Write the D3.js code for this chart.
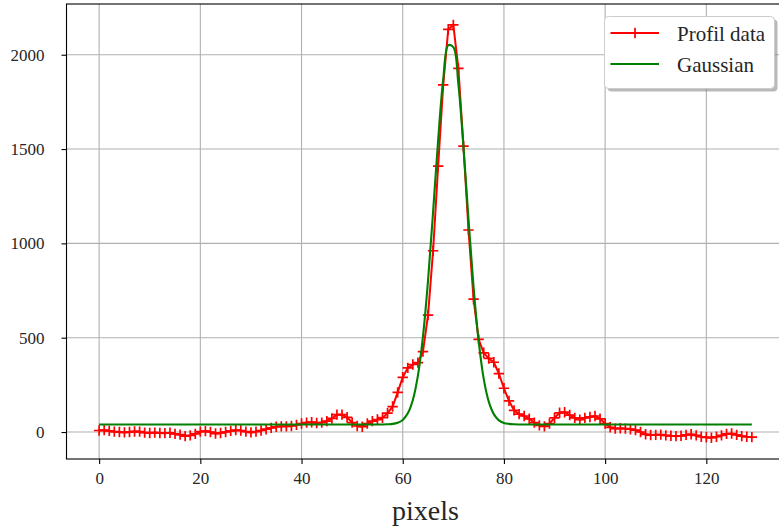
<!DOCTYPE html>
<html><head><meta charset="utf-8">
<script src="https://cdn.jsdelivr.net/npm/d3@7/dist/d3.min.js"></script>
<style>
body{margin:0;background:#fff}
svg{display:block}
text{font-family:"Liberation Serif","DejaVu Serif",serif;fill:#262626}
</style>
</head><body>
<svg id="chart" width="779" height="531"></svg>
<script>
// ---- data ----
const pixelIndex = d3.range(0, 130);
const profileValues = [
  8, 10, 6, 2, 0, -2, 0, 3, 2, -3,
  -5, -3, -5, -6, -4, -10, -14, -22, -18, -10,
  2, 5, 0, -8, -5, 0, 6, 10, 8, 2,
  -2, 2, 8, 15, 22, 28, 30, 30, 32, 38,
  45, 50, 52, 48, 50, 58, 72, 92, 92, 78,
  50, 32, 28, 45, 58, 66, 76, 100, 135, 210,
  290, 340, 358, 368, 426, 620, 961, 1410, 1840, 2135,
  2158, 1928, 1516, 1071, 704, 491, 420, 390, 370, 310,
  232, 165, 115, 95, 85, 70, 50, 35, 30, 45,
  75, 102, 105, 90, 75, 65, 75, 80, 85, 70,
  45, 25, 18, 20, 18, 15, 10, 0, -12, -16,
  -15, -14, -18, -20, -22, -20, -15, -12, -18, -25,
  -28, -30, -25, -18, -10, -8, -15, -22, -25, -27
];
const gaussianValues = [
  40, 40, 40, 40, 40, 40, 40, 40, 40, 40,
  40, 40, 40, 40, 40, 40, 40, 40, 40, 40,
  40, 40, 40, 40, 40, 40, 40, 40, 40, 40,
  40, 40, 40, 40, 40, 40, 40, 40, 40, 40,
  40, 40, 40, 40, 40, 40, 40, 40, 40, 40,
  40, 40, 40, 40, 40, 40, 40, 41, 43, 49,
  64, 99, 170, 299, 507, 803, 1167, 1548, 1869, 2050,
  2040, 1843, 1512, 1128, 769, 483, 283, 161, 95, 62,
  48, 43, 41, 40, 40, 40, 40, 40, 40, 40,
  40, 40, 40, 40, 40, 40, 40, 40, 40, 40,
  40, 40, 40, 40, 40, 40, 40, 40, 40, 40,
  40, 40, 40, 40, 40, 40, 40, 40, 40, 40,
  40, 40, 40, 40, 40, 40, 40, 40, 40, 40
];
const xTicks = [0, 20, 40, 60, 80, 100, 120];
const yTicks = [0, 500, 1000, 1500, 2000];
const seriesNames = ["Profil data", "Gaussian"];
const xLabel = "pixels";

// ---- layout ----
const L = 66.5, R = 784.5, T = 4, B = 459;
const svg = d3.select("#chart");
const x = d3.scaleLinear().domain([-6.45, 135.45]).range([L, R]);
const y = d3.scaleLinear().domain([-143, 2269]).range([B, T]);

// grid
const grid = svg.append("g");
grid.selectAll("line.v").data(xTicks).join("line")
  .attr("x1", d => x(d)).attr("x2", d => x(d)).attr("y1", T).attr("y2", B)
  .attr("stroke", "#b0b0b0").attr("stroke-width", 1.1);
grid.selectAll("line.h").data(yTicks).join("line")
  .attr("y1", d => y(d)).attr("y2", d => y(d)).attr("x1", L).attr("x2", R)
  .attr("stroke", "#b0b0b0").attr("stroke-width", 1.1);

// data lines
const profile = pixelIndex.map((p, i) => [p, profileValues[i]]);
const gauss = pixelIndex.map((p, i) => [p, gaussianValues[i]]);

svg.append("path").datum(profile)
  .attr("fill", "none").attr("stroke", "red").attr("stroke-width", 2)
  .attr("stroke-linejoin", "round")
  .attr("d", d3.line().x(d => x(d[0])).y(d => y(d[1])));
const plus = "M-5.2,0H5.2M0,-5.2V5.2";
svg.append("g").selectAll("path").data(profile).join("path")
  .attr("transform", d => `translate(${x(d[0])},${y(d[1])})`)
  .attr("d", plus).attr("stroke", "red").attr("stroke-width", 1.7).attr("fill", "none");

svg.append("path").datum(gauss)
  .attr("fill", "none").attr("stroke", "green").attr("stroke-width", 2.1)
  .attr("d", d3.line().curve(d3.curveCatmullRom.alpha(0.5)).x(d => x(d[0])).y(d => y(d[1])));

// axes
const xAxis = svg.append("g").attr("transform", `translate(0,${B})`)
  .call(d3.axisBottom(x).tickValues(xTicks).tickSize(5).tickSizeOuter(0).tickPadding(8).tickFormat(d3.format("d")));
const yAxis = svg.append("g").attr("transform", `translate(${L},0)`)
  .call(d3.axisLeft(y).tickValues(yTicks).tickSize(5).tickSizeOuter(0).tickPadding(17).tickFormat(d3.format("d")));
[xAxis, yAxis].forEach(a => {
  a.select(".domain").remove();
  a.selectAll(".tick line").attr("stroke", "#000").attr("stroke-width", 1.1);
  a.selectAll(".tick text").attr("font-size", 17).attr("font-family", "Liberation Serif, serif").attr("fill", "#262626");
});

// spines
const sp = svg.append("g").attr("stroke", "#000").attr("stroke-width", 1.1).attr("fill", "none");
sp.append("rect").attr("x", L).attr("y", T).attr("width", R - L).attr("height", B - T);

// x label
svg.append("text").attr("x", (L + R) / 2).attr("y", 520).attr("text-anchor", "middle")
  .attr("font-size", 28).text(xLabel);

// legend
const lg = svg.append("g");
lg.append("rect").attr("x", 607.5).attr("y", 19.5).attr("width", 170).attr("height", 72)
  .attr("rx", 4).attr("fill", "#808080").attr("opacity", 0.55);
lg.append("rect").attr("x", 604.5).attr("y", 16.5).attr("width", 170).attr("height", 72)
  .attr("rx", 4).attr("fill", "#fff").attr("stroke", "#cccccc").attr("stroke-width", 1);
const entries = [
  {name: seriesNames[0], color: "red", yl: 33, yt: 40.5, marker: true},
  {name: seriesNames[1], color: "green", yl: 64, yt: 72, marker: false}
];
entries.forEach(e => {
  lg.append("line").attr("x1", 610.5).attr("x2", 659).attr("y1", e.yl).attr("y2", e.yl)
    .attr("stroke", e.color).attr("stroke-width", 2);
  if (e.marker) lg.append("path").attr("transform", `translate(635,${e.yl})`).attr("d", plus)
    .attr("stroke", e.color).attr("stroke-width", 1.7);
  lg.append("text").attr("x", 677).attr("y", e.yt).attr("font-size", 21).text(e.name);
});
</script>
</body></html>
